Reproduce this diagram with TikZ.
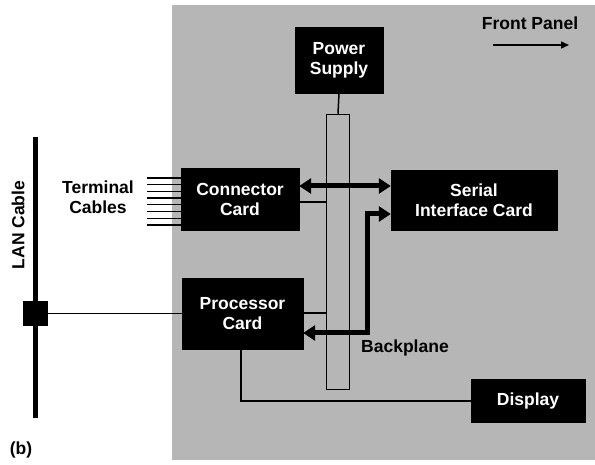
\documentclass[tikz,border=0pt]{standalone}
\usepackage{fontspec}
\setmainfont{Liberation Sans}
\usetikzlibrary{arrows.meta}
\definecolor{bggray}{RGB}{182,182,182}
\begin{document}
\begin{tikzpicture}[x=1pt,y=-1pt,
  card/.style={fill=black,draw=black,text=white,font=\fontsize{17.5}{20}\selectfont\bfseries,align=center,inner sep=0pt},
  lbl/.style={font=\fontsize{17.5}{20}\selectfont\bfseries,align=center,inner sep=0pt},
  thin/.style={line width=1.5pt},
  bus/.style={line width=5pt,{Triangle[width=15pt,length=12pt]}-{Triangle[width=15pt,length=12pt]}},
]
\useasboundingbox (0,0) rectangle (595,465);
\fill[bggray] (172,5) rectangle (595,460);

% cards
\node[card,minimum width=88pt,minimum height=66pt] (power) at (339,60) {Power\\Supply};
\node[card,minimum width=118pt,minimum height=62pt] (conn) at (240,199) {Connector\\Card};
\node[card,minimum width=166pt,minimum height=60pt] (serial) at (474,200) {Serial\\Interface Card};
\node[card,minimum width=121pt,minimum height=71pt] (proc) at (242.5,313.5) {Processor\\Card};
\node[card,minimum width=114pt,minimum height=43pt] (disp) at (528,400.5) {Display};
\node[draw=black,line width=1.5pt,minimum width=23pt,minimum height=275pt,inner sep=0pt] (bp) at (338,252) {};
\node[fill=black,minimum width=25pt,minimum height=25pt,inner sep=0pt] (tap) at (35.5,313.5) {};

% LAN cable
\coordinate (lantop) at (35.5,137);
\coordinate (lanbot) at (35.5,418);
\draw[line width=5pt] (lantop) -- (tap.north);
\draw[line width=5pt] (tap.south) -- (lanbot);

% labels
\node[lbl,rotate=90] (lanlbl) at (18,225) {LAN Cable};
\node[lbl] (termlbl) at (98,197) {Terminal\\Cables};
\node[lbl] (front) at (530,23) {Front Panel};
\node[lbl,anchor=west] (bplbl) at (361,348) {Backplane};
\node[lbl] (b) at (21,450) {(b)};

% front panel arrow
\coordinate (fpa) at (493,45);
\coordinate (fpb) at (569,45);
\draw[line width=1.5pt,-{Triangle[width=7pt,length=8pt]}] (fpa) -- (fpb);

% terminal cables
\foreach \i in {0,...,7}{
  \coordinate (tc\i) at (147,178+\i*6.7);
  \draw[line width=1.3pt] (tc\i) -- (tc\i -| conn.west);
}

% connections
\draw[thin] (power.south) -- (bp.north);
\draw[thin] (conn.east |- 0,202) -- (bp.west |- 0,202);
\draw[thin] (proc.east |- 0,313) -- (bp.west |- 0,313);
\draw[thin] (tap.east) -- (proc.west |- tap.east);
\draw[thin] (proc.south -| 241,0) -- (241,401) -- (disp.west |- 0,401);

% buses
\draw[bus] (conn.east |- 0,186) -- (serial.west |- 0,186);
\draw[bus] (serial.west |- 0,214) -- (367,214) -- (367,333) -- (proc.east |- 0,333);
\end{tikzpicture}
\end{document}
